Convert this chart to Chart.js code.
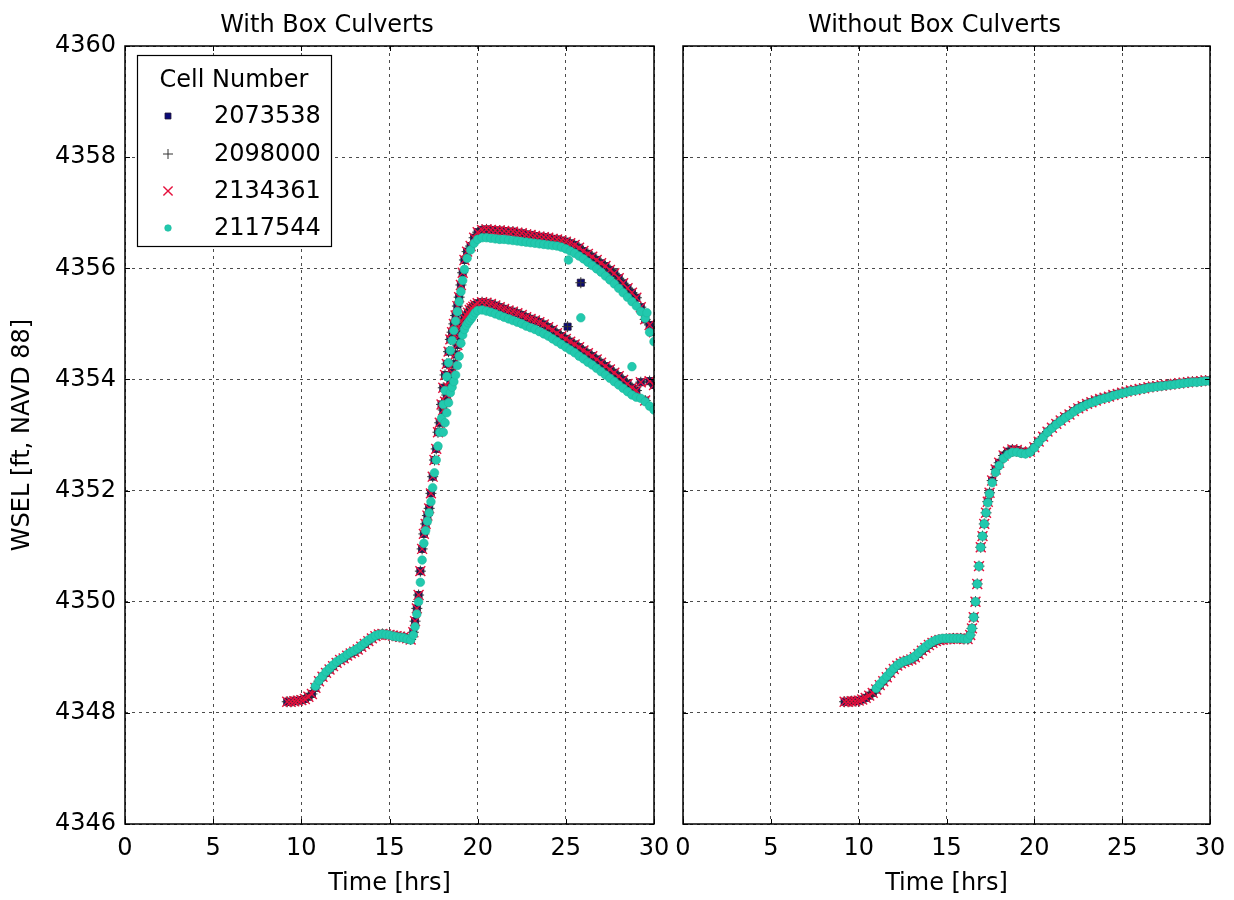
<!DOCTYPE html>
<html><head><meta charset="utf-8">
<script src="https://cdn.jsdelivr.net/npm/chart.js@4/dist/chart.umd.min.js"></script>
<style>
html,body{margin:0;padding:0;background:#fff;}
body{width:1234px;height:900px;position:relative;overflow:hidden;}
#c1{position:absolute;left:0;top:0;}
#c2{position:absolute;left:659px;top:0;}
</style></head><body>
<canvas id="c1" width="779" height="900"></canvas>
<canvas id="c2" width="575" height="900"></canvas>
<script>
// ---------------- DATA ----------------
const panelTitles = ['With Box Culverts', 'Without Box Culverts'];
const cellNumbers = ['2073538', '2098000', '2134361', '2117544'];
const xTicks = [0, 5, 10, 15, 20, 25, 30];
const yTicks = [4346, 4348, 4350, 4352, 4354, 4356, 4358, 4360];

// Left panel (with box culverts): track A (upper branch) times
const leftTimesA = [9.2, 9.4, 9.6, 9.8, 10.0, 10.2, 10.4, 10.6, 10.8, 11.0,
 11.2, 11.4, 11.6, 11.8, 12.0, 12.2, 12.4, 12.6, 12.8, 13.0,
 13.2, 13.4, 13.6, 13.8, 14.0, 14.2, 14.4, 14.6, 14.8, 15.0,
 15.2, 15.4, 15.6, 15.8, 16.0, 16.2, 16.35, 16.45, 16.55, 16.65,
 16.75, 16.85, 16.95, 17.05, 17.15, 17.25, 17.35, 17.45, 17.55, 17.65,
 17.75, 17.85, 17.95, 18.05, 18.15, 18.25, 18.35, 18.45, 18.55, 18.65,
 18.75, 18.85, 18.95, 19.05, 19.15, 19.25, 19.4, 19.6, 19.8, 20.0,
 20.25, 20.5, 20.75, 21.0, 21.25, 21.5, 21.75, 22.0, 22.25, 22.5,
 22.75, 23.0, 23.25, 23.5, 23.75, 24.0, 24.25, 24.5, 24.75, 25.0,
 25.25, 25.5, 25.75, 26.0, 26.25, 26.5, 26.75, 27.0, 27.25, 27.5,
 27.75, 28.0, 28.25, 28.5, 28.75, 29.0, 29.25, 29.5, 29.75, 30.0];
// cells 2073538 / 2098000 / 2134361 coincide in the picture
const left2073538A = [4348.20, 4348.20, 4348.21, 4348.22, 4348.23, 4348.25, 4348.29, 4348.34, 4348.45, 4348.57,
 4348.65, 4348.72, 4348.78, 4348.84, 4348.90, 4348.95, 4348.98, 4349.03, 4349.07, 4349.10,
 4349.14, 4349.19, 4349.24, 4349.29, 4349.34, 4349.38, 4349.41, 4349.42, 4349.41, 4349.40,
 4349.39, 4349.38, 4349.37, 4349.36, 4349.34, 4349.32, 4349.45, 4349.65, 4349.88, 4350.12,
 4350.55, 4350.95, 4351.22, 4351.40, 4351.55, 4351.68, 4351.95, 4352.25, 4352.55, 4352.75,
 4353.05, 4353.22, 4353.55, 4353.85, 4354.08, 4354.28, 4354.50, 4354.72, 4354.85, 4355.00,
 4355.15, 4355.32, 4355.48, 4355.70, 4355.92, 4356.15, 4356.30, 4356.40, 4356.55, 4356.65,
 4356.69, 4356.70, 4356.69, 4356.68, 4356.68, 4356.67, 4356.66, 4356.66, 4356.64, 4356.63,
 4356.61, 4356.60, 4356.58, 4356.57, 4356.56, 4356.55, 4356.53, 4356.52, 4356.50, 4356.48,
 4356.45, 4356.42, 4356.37, 4356.31, 4356.26, 4356.21, 4356.15, 4356.09, 4356.04, 4355.97,
 4355.91, 4355.82, 4355.73, 4355.64, 4355.56, 4355.47, 4355.30, 4355.08, 4354.98, 4354.85];
const left2117544A = [null, null, null, null, null, null, null, null, 4348.48, 4348.58,
 4348.66, 4348.74, 4348.80, 4348.86, 4348.92, 4348.96, 4349.00, 4349.05, 4349.09, 4349.12,
 4349.16, 4349.21, 4349.26, 4349.31, 4349.35, 4349.39, 4349.41, 4349.42, 4349.41, 4349.40,
 4349.38, 4349.37, 4349.36, 4349.35, 4349.33, 4349.31, 4349.40, 4349.55, 4349.78, 4350.00,
 4350.35, 4350.75, 4351.05, 4351.28, 4351.45, 4351.60, 4351.80, 4352.05, 4352.32, 4352.55,
 4352.80, 4353.05, 4353.30, 4353.55, 4353.80, 4354.05, 4354.30, 4354.52, 4354.70, 4354.88,
 4355.05, 4355.22, 4355.40, 4355.58, 4355.78, 4355.98, 4356.18, 4356.33, 4356.45, 4356.52,
 4356.55, 4356.55, 4356.54, 4356.53, 4356.52, 4356.52, 4356.51, 4356.50, 4356.49, 4356.48,
 4356.47, 4356.46, 4356.45, 4356.44, 4356.43, 4356.42, 4356.41, 4356.40, 4356.38, 4356.35,
 4356.31, 4356.27, 4356.22, 4356.17, 4356.11, 4356.05, 4355.99, 4355.93, 4355.86, 4355.79,
 4355.72, 4355.64, 4355.56, 4355.48, 4355.40, 4355.32, 4355.22, 4355.10, 4354.85, 4354.68];

// Left panel: track B (lower branch) times
const leftTimesB = [18.05, 18.15, 18.25, 18.35, 18.45, 18.55, 18.65, 18.75, 18.85, 18.95,
 19.05, 19.15, 19.25, 19.35, 19.45, 19.55, 19.65, 19.75, 19.85, 20.0,
 20.25, 20.5, 20.75, 21.0, 21.25, 21.5, 21.75, 22.0, 22.25, 22.5,
 22.75, 23.0, 23.25, 23.5, 23.75, 24.0, 24.25, 24.5, 24.75, 25.0,
 25.25, 25.5, 25.75, 26.0, 26.25, 26.5, 26.75, 27.0, 27.25, 27.5,
 27.75, 28.0, 28.25, 28.5, 28.75, 29.0, 29.25, 29.5, 29.75, 30.0];
const left2073538B = [4353.45, 4353.60, 4353.72, 4353.85, 4353.98, 4354.12, 4354.28, 4354.45, 4354.62, 4354.78,
 4354.92, 4355.02, 4355.10, 4355.15, 4355.20, 4355.25, 4355.28, 4355.31, 4355.34, 4355.37,
 4355.39, 4355.38, 4355.36, 4355.33, 4355.30, 4355.27, 4355.24, 4355.22, 4355.19, 4355.16,
 4355.12, 4355.09, 4355.06, 4355.03, 4354.99, 4354.94, 4354.89, 4354.83, 4354.78, 4354.73,
 4354.68, 4354.63, 4354.58, 4354.52, 4354.47, 4354.42, 4354.36, 4354.30, 4354.24, 4354.18,
 4354.12, 4354.06, 4353.99, 4353.92, 4353.85, 4353.80, 4353.95, 4353.62, 4353.97, 4353.90];
const left2117544B = [4353.05, 4353.22, 4353.40, 4353.58, 4353.76, 4353.86, 4353.96, 4354.08, 4354.25, 4354.42,
 4354.65, 4354.80, 4354.90, 4354.97, 4355.02, 4355.06, 4355.10, 4355.15, 4355.20, 4355.24,
 4355.25, 4355.23, 4355.21, 4355.18, 4355.15, 4355.12, 4355.09, 4355.06, 4355.03, 4355.00,
 4354.96, 4354.93, 4354.90, 4354.86, 4354.82, 4354.78, 4354.73, 4354.68, 4354.63, 4354.58,
 4354.53, 4354.48, 4354.42, 4354.37, 4354.31, 4354.26, 4354.20, 4354.14, 4354.08, 4354.02,
 4353.96, 4353.90, 4353.84, 4353.78, 4353.72, 4353.68, 4353.66, 4353.60, 4353.52, 4353.45];

// Left panel: scattered points between branches
const leftExtraTimes2073538 = [25.1, 25.85];
const leftExtra2073538 = [4354.95, 4355.74];
const leftExtraTimes2117544 = [25.15, 25.85, 28.75, 29.6];
const leftExtra2117544 = [4356.15, 4355.11, 4354.23, 4355.20];

// Right panel (without box culverts)
const rightTimes = [9.2, 9.4, 9.6, 9.8, 10.0, 10.2, 10.4, 10.6, 10.8, 11.0,
 11.2, 11.4, 11.6, 11.8, 12.0, 12.2, 12.4, 12.6, 12.8, 13.0,
 13.2, 13.4, 13.6, 13.8, 14.0, 14.2, 14.4, 14.6, 14.8, 15.0,
 15.2, 15.4, 15.6, 15.8, 16.0, 16.2, 16.35, 16.45, 16.55, 16.65,
 16.75, 16.85, 16.95, 17.05, 17.15, 17.25, 17.35, 17.45, 17.6, 17.8,
 18.0, 18.25, 18.5, 18.75, 19.0, 19.25, 19.5, 19.75, 20.0, 20.25,
 20.5, 20.75, 21.0, 21.25, 21.5, 21.75, 22.0, 22.25, 22.5, 22.75,
 23.0, 23.25, 23.5, 23.75, 24.0, 24.25, 24.5, 24.75, 25.0, 25.25,
 25.5, 25.75, 26.0, 26.25, 26.5, 26.75, 27.0, 27.25, 27.5, 27.75,
 28.0, 28.25, 28.5, 28.75, 29.0, 29.25, 29.5, 29.75, 30.0];
const right2073538 = [4348.20, 4348.20, 4348.21, 4348.21, 4348.22, 4348.24, 4348.27, 4348.31, 4348.36, 4348.42,
 4348.50, 4348.57, 4348.64, 4348.72, 4348.79, 4348.85, 4348.89, 4348.92, 4348.94, 4348.96,
 4349.00, 4349.06, 4349.12, 4349.17, 4349.22, 4349.26, 4349.29, 4349.31, 4349.32, 4349.33,
 4349.33, 4349.34, 4349.34, 4349.34, 4349.33, 4349.33, 4349.40, 4349.52, 4349.72, 4350.00,
 4350.32, 4350.64, 4350.98, 4351.18, 4351.40, 4351.60, 4351.80, 4351.96, 4352.18, 4352.38,
 4352.50, 4352.63, 4352.70, 4352.74, 4352.73, 4352.70, 4352.68, 4352.70, 4352.78, 4352.88,
 4352.97, 4353.06, 4353.13, 4353.20, 4353.26, 4353.32, 4353.37, 4353.43, 4353.48, 4353.52,
 4353.56, 4353.59, 4353.62, 4353.65, 4353.67, 4353.69, 4353.72, 4353.74, 4353.76, 4353.78,
 4353.80, 4353.81, 4353.83, 4353.84, 4353.86, 4353.87, 4353.88, 4353.89, 4353.90, 4353.91,
 4353.92, 4353.93, 4353.94, 4353.95, 4353.96, 4353.96, 4353.97, 4353.98, 4353.98];
const right2117544 = [null, null, null, null, null, null, null, null, null, 4348.44,
 4348.52, 4348.59, 4348.66, 4348.73, 4348.80, 4348.86, 4348.90, 4348.93, 4348.95, 4348.98,
 4349.02, 4349.08, 4349.14, 4349.19, 4349.24, 4349.28, 4349.31, 4349.33, 4349.34, 4349.34,
 4349.34, 4349.34, 4349.34, 4349.34, 4349.33, 4349.33, 4349.40, 4349.52, 4349.72, 4350.00,
 4350.32, 4350.64, 4350.98, 4351.18, 4351.40, 4351.60, 4351.78, 4351.94, 4352.14, 4352.33,
 4352.45, 4352.58, 4352.65, 4352.69, 4352.69, 4352.67, 4352.66, 4352.69, 4352.77, 4352.87,
 4352.96, 4353.05, 4353.12, 4353.19, 4353.25, 4353.31, 4353.36, 4353.42, 4353.47, 4353.51,
 4353.55, 4353.58, 4353.61, 4353.64, 4353.66, 4353.68, 4353.71, 4353.73, 4353.75, 4353.77,
 4353.79, 4353.80, 4353.82, 4353.83, 4353.85, 4353.86, 4353.87, 4353.88, 4353.89, 4353.90,
 4353.91, 4353.92, 4353.93, 4353.94, 4353.95, 4353.95, 4353.96, 4353.97, 4353.97];

// ---------------- BUILD ----------------
function pts(times, vals) {
  const out = [];
  times.forEach((t, i) => { if (vals[i] !== null && vals[i] !== undefined) out.push({x: t, y: vals[i]}); });
  return out;
}

const FONT = "'DejaVu Sans', 'Liberation Sans', sans-serif";
Chart.defaults.font.family = FONT;
Chart.defaults.font.size = 24;
Chart.defaults.color = '#000';

const styles = [
  {pointStyle: 'rect', pointRadius: 5, backgroundColor: '#0a0a78', borderColor: '#1a1030', borderWidth: 0.8, order: 3},
  {pointStyle: 'cross', pointRadius: 5.5, backgroundColor: '#333', borderColor: '#333', borderWidth: 1, order: 2},
  {pointStyle: 'crossRot', pointRadius: 7, backgroundColor: '#e5103c', borderColor: '#e5103c', borderWidth: 1.4, order: 1},
  {pointStyle: 'circle', pointRadius: 4.3, backgroundColor: '#22c9ae', borderColor: '#1bb89c', borderWidth: 0.6, order: 0}
];

function makeDatasets(seriesData) {
  return cellNumbers.map((cell, i) => Object.assign({
    label: cell,
    data: seriesData[i],
    pointHoverRadius: 0,
    clip: 0,
    showLine: false
  }, styles[i]));
}

const leftData = [
  pts(leftTimesA, left2073538A).concat(pts(leftTimesB, left2073538B), pts(leftExtraTimes2073538, leftExtra2073538)),
  pts(leftTimesA, left2073538A).concat(pts(leftTimesB, left2073538B), pts(leftExtraTimes2073538, leftExtra2073538)),
  pts(leftTimesA, left2073538A).concat(pts(leftTimesB, left2073538B)),
  pts(leftTimesA, left2117544A).concat(pts(leftTimesB, left2117544B), pts(leftExtraTimes2117544, leftExtra2117544))
];
const rightData = [
  pts(rightTimes, right2073538),
  pts(rightTimes, right2073538),
  pts(rightTimes, right2073538),
  pts(rightTimes, right2117544)
];

const framePlugin = {
  id: 'frame',
  afterDraw(chart) {
    const {ctx, chartArea: a, scales} = chart;
    ctx.save();
    ctx.strokeStyle = '#000';
    ctx.lineWidth = 1;
    const L = 5;
    ctx.beginPath();
    scales.x.ticks.forEach(t => {
      const px = Math.round(scales.x.getPixelForValue(t.value)) + 0.5;
      ctx.moveTo(px, a.bottom); ctx.lineTo(px, a.bottom - L);
      ctx.moveTo(px, a.top); ctx.lineTo(px, a.top + L);
    });
    scales.y.ticks.forEach(t => {
      const py = Math.round(scales.y.getPixelForValue(t.value)) + 0.5;
      ctx.moveTo(a.left, py); ctx.lineTo(a.left + L, py);
      ctx.moveTo(a.right, py); ctx.lineTo(a.right - L, py);
    });
    ctx.stroke();
    ctx.lineWidth = 1.5;
    ctx.strokeRect(a.left, a.top, a.right - a.left, a.bottom - a.top);
    ctx.restore();
  }
};

const legendPlugin = {
  id: 'boxLegend',
  afterDraw(chart, args, opts) {
    if (!opts || !opts.show) return;
    const {ctx, chartArea: a} = chart;
    const x0 = a.left + 12, y0 = a.top + 9, w = 194, h = 191;
    ctx.save();
    ctx.fillStyle = '#fff';
    ctx.fillRect(x0, y0, w, h);
    ctx.strokeStyle = '#000';
    ctx.lineWidth = 1.2;
    ctx.strokeRect(x0 + 0.5, y0 + 0.5, w, h);
    ctx.font = '24px ' + FONT;
    ctx.fillStyle = '#000';
    ctx.textBaseline = 'middle';
    ctx.textAlign = 'center';
    ctx.fillText('Cell Number', x0 + w / 2, y0 + 26);
    ctx.textAlign = 'left';
    const rows = [61, 99, 136, 173];
    chart.data.datasets.forEach((ds, i) => {
      const y = y0 + rows[i];
      const mx = x0 + 31;
      ctx.save();
      ctx.fillStyle = ds.backgroundColor;
      ctx.strokeStyle = ds.borderColor;
      ctx.lineWidth = ds.borderWidth;
      const r = ds.pointStyle === 'rect' ? 4.2 : (ds.pointStyle === 'circle' ? 3.3 : (ds.pointStyle === 'crossRot' ? 6.5 : 5));
      if (Chart.helpers && Chart.helpers.drawPoint) {
        Chart.helpers.drawPoint(ctx, {pointStyle: ds.pointStyle, radius: r, borderWidth: ds.borderWidth, rotation: 0}, mx, y);
      }
      ctx.restore();
      ctx.fillStyle = '#000';
      ctx.fillText(ds.label, x0 + 77, y + 1);
    });
    ctx.restore();
  }
};

function makeChart(id, title, data, isLeft) {
  return new Chart(document.getElementById(id), {
    type: 'scatter',
    data: {datasets: makeDatasets(data)},
    plugins: [framePlugin, legendPlugin],
    options: {
      responsive: false,
      animation: false,
      events: [],
      layout: {padding: {left: 0, right: isLeft ? 125 : 24, top: 0, bottom: 0}},
      plugins: {
        legend: {display: false},
        tooltip: {enabled: false},
        boxLegend: {show: isLeft},
        title: {
          display: true, text: title, color: '#000',
          font: {size: 24, weight: 'normal', family: FONT},
          padding: {top: 11.6, bottom: 5.6}
        }
      },
      scales: {
        x: {
          type: 'linear', min: 0, max: 30,
          afterBuildTicks(s) { s.ticks = xTicks.map(v => ({value: v})); },
          ticks: {autoSkip: false, maxRotation: 0, padding: 10, color: '#000', font: {size: 24},
                  callback: v => String(v)},
          grid: {color: 'rgba(0,0,0,0.7)', lineWidth: 1, drawTicks: false},
          border: {display: false, dash: [3, 4]},
          title: {display: true, text: 'Time [hrs]', color: '#000', font: {size: 24}, padding: {top: 0, bottom: 2}},
          afterFit(s) { s.height = 76; s.paddingLeft = 0; s.paddingRight = 0; }
        },
        y: {
          type: 'linear', min: 4346, max: 4360,
          afterBuildTicks(s) { s.ticks = yTicks.map(v => ({value: v})); },
          ticks: {display: isLeft, padding: 9, color: '#000', font: {size: 24}, callback: v => String(v)},
          grid: {color: 'rgba(0,0,0,0.7)', lineWidth: 1, drawTicks: false},
          border: {display: false, dash: [3, 4]},
          title: {display: isLeft, text: 'WSEL [ft, NAVD 88]', color: '#000', font: {size: 24}, padding: {top: 8, bottom: 0}},
          afterFit(s) { s.width = isLeft ? 125 : 24; s.paddingTop = 0; s.paddingBottom = 0; }
        }
      }
    }
  });
}

makeChart('c1', panelTitles[0], leftData, true);
makeChart('c2', panelTitles[1], rightData, false);
</script>
</body></html>
